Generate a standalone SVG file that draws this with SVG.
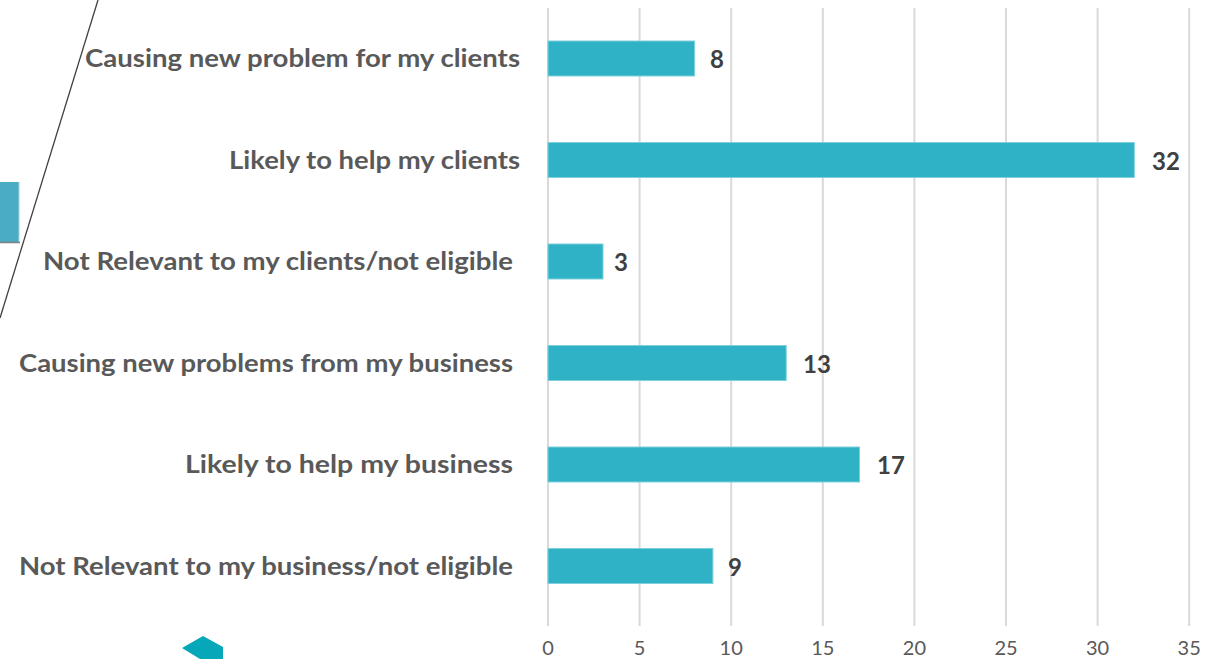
<svg xmlns="http://www.w3.org/2000/svg" width="1205" height="659" viewBox="0 0 1205 659">
<style>
.grid{stroke:#d9d9d9;stroke-width:2}
.bar{fill:#2fb1c6;stroke:#7fd0dd;stroke-width:1}
.cat{font-family:Lato,"Open Sans",sans-serif;font-weight:bold;font-size:24px;fill:#595959;text-anchor:end}
.val{font-family:Lato,"Open Sans",sans-serif;font-weight:bold;font-size:24px;fill:#404040}
.tick{font-family:Lato,"Open Sans",sans-serif;font-size:20px;fill:#595959;text-anchor:middle}
</style>
<rect width="1205" height="659" fill="#ffffff"/>
<g id="decor">
<rect x="0" y="182" width="19" height="60" fill="#4bacc6"/>
<line x1="19" y1="182" x2="19" y2="242" stroke="#9fd6e3" stroke-width="1"/>
<line x1="0" y1="242.5" x2="20" y2="242.5" stroke="#808080" stroke-width="1.5"/>
<line x1="98" y1="0" x2="0" y2="318" stroke="#404040" stroke-width="1.3"/>
<polygon points="182,648 203,636 223,647 223,659 200,659" fill="#05a7b9"/>
</g>
<g id="gridlines">
<line class="grid" x1="548" y1="8" x2="548" y2="626"/>
<line class="grid" x1="639.6" y1="8" x2="639.6" y2="626"/>
<line class="grid" x1="731.2" y1="8" x2="731.2" y2="626"/>
<line class="grid" x1="822.8" y1="8" x2="822.8" y2="626"/>
<line class="grid" x1="914.4" y1="8" x2="914.4" y2="626"/>
<line class="grid" x1="1006" y1="8" x2="1006" y2="626"/>
<line class="grid" x1="1097.6" y1="8" x2="1097.6" y2="626"/>
<line class="grid" x1="1189.2" y1="8" x2="1189.2" y2="626"/>
</g>
<g id="axis">
<text class="tick" x="548" y="655">0</text>
<text class="tick" x="639.6" y="655">5</text>
<text class="tick" x="731.2" y="655">10</text>
<text class="tick" x="822.8" y="655">15</text>
<text class="tick" x="914.4" y="655">20</text>
<text class="tick" x="1006" y="655">25</text>
<text class="tick" x="1097.6" y="655">30</text>
<text class="tick" x="1189.2" y="655">35</text>
</g>
<g id="row1">
<rect class="bar" x="548" y="41" width="146.6" height="35"/>
<text class="cat" x="520" y="67" textLength="435" lengthAdjust="spacingAndGlyphs">Causing new problem for my clients</text>
<text class="val" x="710" y="68">8</text>
</g>
<g id="row2">
<rect class="bar" x="548" y="142.5" width="586.3" height="35"/>
<text class="cat" x="520" y="168.5" textLength="291" lengthAdjust="spacingAndGlyphs">Likely to help my clients</text>
<text class="val" x="1152" y="169.5">32</text>
</g>
<g id="row3">
<rect class="bar" x="548" y="244" width="55" height="35"/>
<text class="cat" x="513" y="270" textLength="470" lengthAdjust="spacingAndGlyphs">Not Relevant to my clients/not eligible</text>
<text class="val" x="614" y="271">3</text>
</g>
<g id="row4">
<rect class="bar" x="548" y="345.5" width="238.2" height="35"/>
<text class="cat" x="513" y="371.5" textLength="494" lengthAdjust="spacingAndGlyphs">Causing new problems from my business</text>
<text class="val" x="803" y="372.5">13</text>
</g>
<g id="row5">
<rect class="bar" x="548" y="447" width="311.5" height="35"/>
<text class="cat" x="513" y="473" textLength="328" lengthAdjust="spacingAndGlyphs">Likely to help my business</text>
<text class="val" x="877" y="474">17</text>
</g>
<g id="row6">
<rect class="bar" x="548" y="548.5" width="164.9" height="35"/>
<text class="cat" x="513" y="574.5" textLength="494" lengthAdjust="spacingAndGlyphs">Not Relevant to my business/not eligible</text>
<text class="val" x="728" y="575.5">9</text>
</g>
</svg>
